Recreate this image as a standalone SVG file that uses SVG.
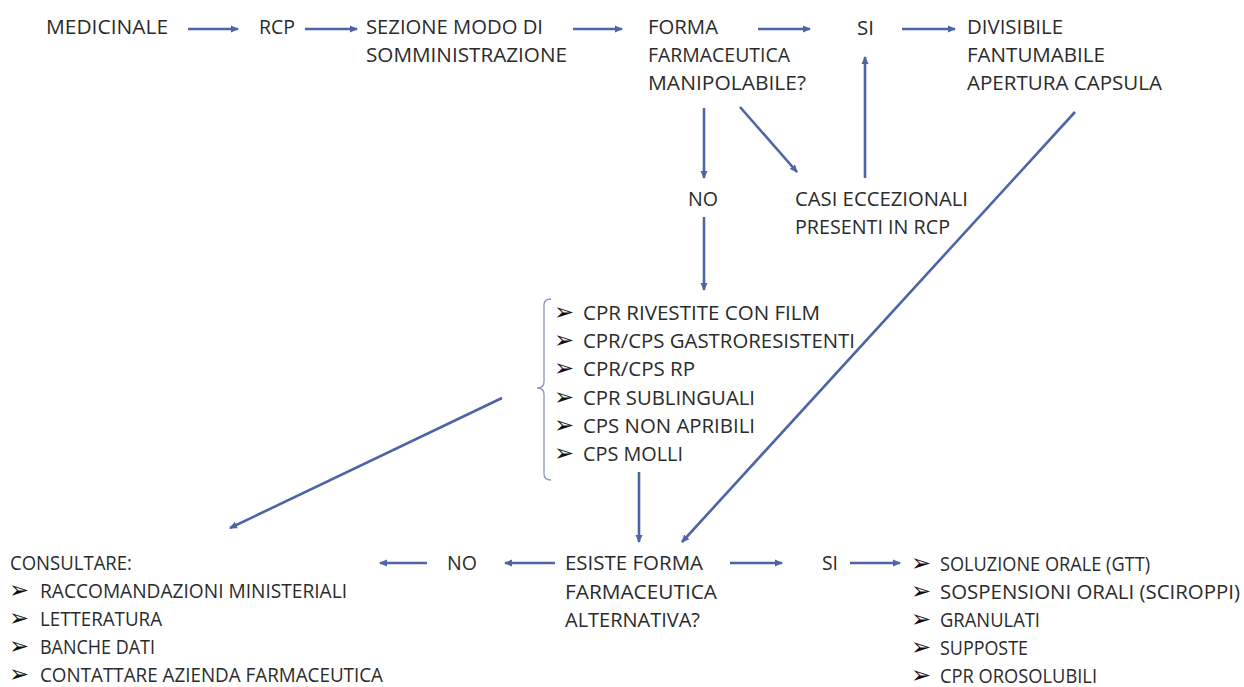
<svg xmlns="http://www.w3.org/2000/svg" width="1244" height="687" viewBox="0 0 1244 687">
<style>
text{font-family:"Open Sans","Liberation Sans",sans-serif;font-size:20px;fill:#2b2b2b}
.b{font-family:"DejaVu Sans",sans-serif;font-size:24px;fill:#111}
.c{stroke:#4e64a6;stroke-width:2.6;fill:none;marker-end:url(#ah)}
.br{stroke:#8a97b5;stroke-width:1.3;fill:none}
</style>
<defs>
<marker id="ah" markerWidth="10" markerHeight="8" refX="7" refY="4" orient="auto" markerUnits="userSpaceOnUse">
<path d="M0,0.5 L8,4 L0,7.5 Z" fill="#4e64a6"/>
</marker>
</defs>
<rect width="1244" height="687" fill="#ffffff"/>
<g id="connectors">
<line class="c" x1="188" y1="29" x2="238" y2="29"/>
<line class="c" x1="305" y1="29" x2="357" y2="29"/>
<line class="c" x1="573" y1="29" x2="622" y2="29"/>
<line class="c" x1="758" y1="29" x2="810" y2="29"/>
<line class="c" x1="902" y1="29" x2="955" y2="29"/>
<line class="c" x1="704" y1="108" x2="704" y2="178"/>
<line class="c" x1="740" y1="107" x2="797" y2="172"/>
<line class="c" x1="865" y1="178" x2="865" y2="57"/>
<line class="c" x1="704" y1="217" x2="704" y2="290"/>
<line class="c" x1="1075" y1="112" x2="682" y2="542"/>
<line class="c" x1="502" y1="398" x2="230" y2="528"/>
<line class="c" x1="639" y1="472" x2="639" y2="542"/>
<line class="c" x1="730" y1="563" x2="782" y2="563"/>
<line class="c" x1="850" y1="563" x2="900" y2="563"/>
<line class="c" x1="555" y1="563" x2="505" y2="563"/>
<line class="c" x1="427" y1="563" x2="380" y2="563"/>
</g>
<g id="medicinale"><text x="46" y="34" textLength="122" lengthAdjust="spacingAndGlyphs">MEDICINALE</text></g>
<g id="rcp"><text x="259" y="34" textLength="36" lengthAdjust="spacingAndGlyphs">RCP</text></g>
<g id="sezione">
<text x="366" y="34" textLength="177" lengthAdjust="spacingAndGlyphs">SEZIONE MODO DI</text>
<text x="366" y="62" textLength="201" lengthAdjust="spacingAndGlyphs">SOMMINISTRAZIONE</text>
</g>
<g id="forma">
<text x="648" y="34" textLength="70" lengthAdjust="spacingAndGlyphs">FORMA</text>
<text x="648" y="62" textLength="142" lengthAdjust="spacingAndGlyphs">FARMACEUTICA</text>
<text x="648" y="90" textLength="158" lengthAdjust="spacingAndGlyphs">MANIPOLABILE?</text>
</g>
<g id="si-top"><text x="857" y="35" textLength="17" lengthAdjust="spacingAndGlyphs">SI</text></g>
<g id="divisibile">
<text x="967" y="34" textLength="96" lengthAdjust="spacingAndGlyphs">DIVISIBILE</text>
<text x="967" y="62" textLength="138" lengthAdjust="spacingAndGlyphs">FANTUMABILE</text>
<text x="967" y="90" textLength="195" lengthAdjust="spacingAndGlyphs">APERTURA CAPSULA</text>
</g>
<g id="no-mid"><text x="688" y="206" textLength="30" lengthAdjust="spacingAndGlyphs">NO</text></g>
<g id="casi">
<text x="795" y="206" textLength="173" lengthAdjust="spacingAndGlyphs">CASI ECCEZIONALI</text>
<text x="795" y="234" textLength="155" lengthAdjust="spacingAndGlyphs">PRESENTI IN RCP</text>
</g>
<g id="non-manipolabili">
<path class="br" d="M551,299 Q544,299 544,305 L544,382 Q544,388 537,388 Q544,388 544,394 L544,474 Q544,480 551,480"/>
<text class="b" x="554" y="320">➢</text>
<text x="583" y="320" textLength="237" lengthAdjust="spacingAndGlyphs">CPR RIVESTITE CON FILM</text>
<text class="b" x="554" y="348">➢</text>
<text x="583" y="348" textLength="272" lengthAdjust="spacingAndGlyphs">CPR/CPS GASTRORESISTENTI</text>
<text class="b" x="554" y="376">➢</text>
<text x="583" y="376" textLength="112" lengthAdjust="spacingAndGlyphs">CPR/CPS RP</text>
<text class="b" x="554" y="405">➢</text>
<text x="583" y="405" textLength="172" lengthAdjust="spacingAndGlyphs">CPR SUBLINGUALI</text>
<text class="b" x="554" y="433">➢</text>
<text x="583" y="433" textLength="172" lengthAdjust="spacingAndGlyphs">CPS NON APRIBILI</text>
<text class="b" x="554" y="461">➢</text>
<text x="583" y="461" textLength="100" lengthAdjust="spacingAndGlyphs">CPS MOLLI</text>
</g>
<g id="consultare">
<text x="10" y="570" textLength="122" lengthAdjust="spacingAndGlyphs">CONSULTARE:</text>
<text class="b" x="9" y="598">➢</text>
<text x="40" y="598" textLength="307" lengthAdjust="spacingAndGlyphs">RACCOMANDAZIONI MINISTERIALI</text>
<text class="b" x="9" y="626">➢</text>
<text x="40" y="626" textLength="122" lengthAdjust="spacingAndGlyphs">LETTERATURA</text>
<text class="b" x="9" y="654">➢</text>
<text x="40" y="654" textLength="115" lengthAdjust="spacingAndGlyphs">BANCHE DATI</text>
<text class="b" x="9" y="682">➢</text>
<text x="40" y="682" textLength="343" lengthAdjust="spacingAndGlyphs">CONTATTARE AZIENDA FARMACEUTICA</text>
</g>
<g id="no-bottom"><text x="447" y="570" textLength="30" lengthAdjust="spacingAndGlyphs">NO</text></g>
<g id="esiste">
<text x="565" y="570" textLength="138" lengthAdjust="spacingAndGlyphs">ESISTE FORMA</text>
<text x="565" y="599" textLength="152" lengthAdjust="spacingAndGlyphs">FARMACEUTICA</text>
<text x="565" y="627" textLength="135" lengthAdjust="spacingAndGlyphs">ALTERNATIVA?</text>
</g>
<g id="si-bottom"><text x="822" y="570" textLength="16" lengthAdjust="spacingAndGlyphs">SI</text></g>
<g id="alternative">
<text class="b" x="911" y="571">➢</text>
<text x="940" y="571" textLength="210" lengthAdjust="spacingAndGlyphs">SOLUZIONE ORALE (GTT)</text>
<text class="b" x="911" y="599">➢</text>
<text x="940" y="599" textLength="300" lengthAdjust="spacingAndGlyphs">SOSPENSIONI ORALI (SCIROPPI)</text>
<text class="b" x="911" y="627">➢</text>
<text x="940" y="627" textLength="100" lengthAdjust="spacingAndGlyphs">GRANULATI</text>
<text class="b" x="911" y="655">➢</text>
<text x="940" y="655" textLength="88" lengthAdjust="spacingAndGlyphs">SUPPOSTE</text>
<text class="b" x="911" y="683">➢</text>
<text x="940" y="683" textLength="157" lengthAdjust="spacingAndGlyphs">CPR OROSOLUBILI</text>
</g>
</svg>
